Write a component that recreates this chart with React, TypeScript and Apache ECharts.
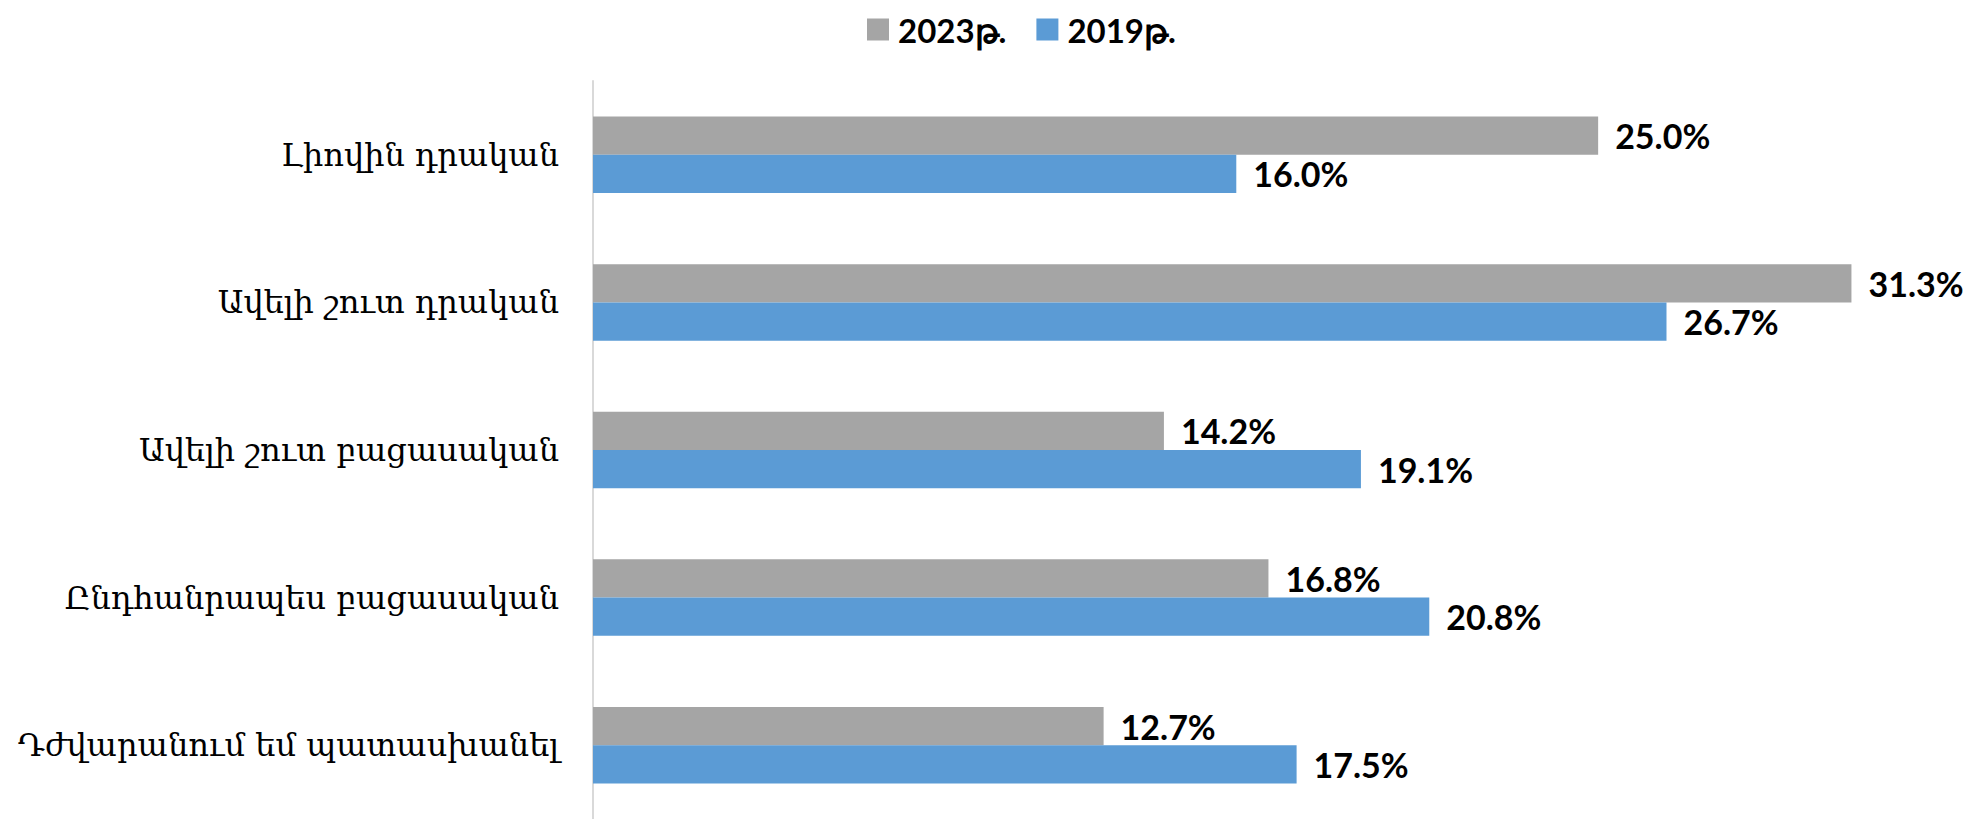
import React, { useEffect, useRef } from "react";
import * as echarts from "echarts";

const categories = [
  "Լիովին դրական",
  "Ավելի շուտ դրական",
  "Ավելի շուտ բացասական",
  "Ընդհանրապես բացասական",
  "Դժվարանում եմ պատասխանել",
];
const seriesNames = ["2023թ.", "2019թ."];
const values2023 = [25.0, 31.3, 14.2, 16.8, 12.7];
const values2019 = [16.0, 26.7, 19.1, 20.8, 17.5];
const colors = ["#A5A5A5", "#5B9BD5"];

export default function App() {
  const ref = useRef<HTMLDivElement>(null);
  useEffect(() => {
    document.body.style.margin = "0";
    const chart = echarts.init(ref.current!, null, { renderer: "svg" });
    const labelStyle = {
      show: true,
      position: "right",
      distance: 17,
      fontFamily: "Lato",
      fontWeight: "bold",
      fontSize: 34,
      color: "#000",
      formatter: (p: any) => p.value.toFixed(1) + "%",
    };
    chart.setOption({
      animation: false,
      backgroundColor: "#fff",
      legend: {
        top: 8,
        left: 862,
        itemWidth: 22,
        itemHeight: 22,
        itemGap: 30,
        icon: "rect",
        textStyle: { fontFamily: "Lato", fontWeight: "bold", fontSize: 33, color: "#000", padding: [0, 0, 0, 4] },
        data: seriesNames,
      },
      grid: { left: 593, top: 81, width: 1367, height: 743 },
      xAxis: { type: "value", min: 0, max: 34, show: false, splitLine: { show: false } },
      yAxis: {
        type: "category",
        inverse: true,
        data: categories,
        axisTick: { show: false },
        axisLine: { show: true, lineStyle: { color: "#D9D9D9", width: 2 } },
        axisLabel: { margin: 34, fontFamily: "DejaVu Serif", fontSize: 32, color: "#000" },
      },
      series: [
        {
          name: seriesNames[0],
          type: "bar",
          data: values2023,
          itemStyle: { color: colors[0] },
          barGap: "0%",
          barCategoryGap: "48.2%",
          label: labelStyle,
        },
        {
          name: seriesNames[1],
          type: "bar",
          data: values2019,
          itemStyle: { color: colors[1] },
          barGap: "0%",
          barCategoryGap: "48.2%",
          label: labelStyle,
        },
      ],
    });
    return () => chart.dispose();
  }, []);
  return <div ref={ref} style={{ width: 1975, height: 819 }} />;
}
